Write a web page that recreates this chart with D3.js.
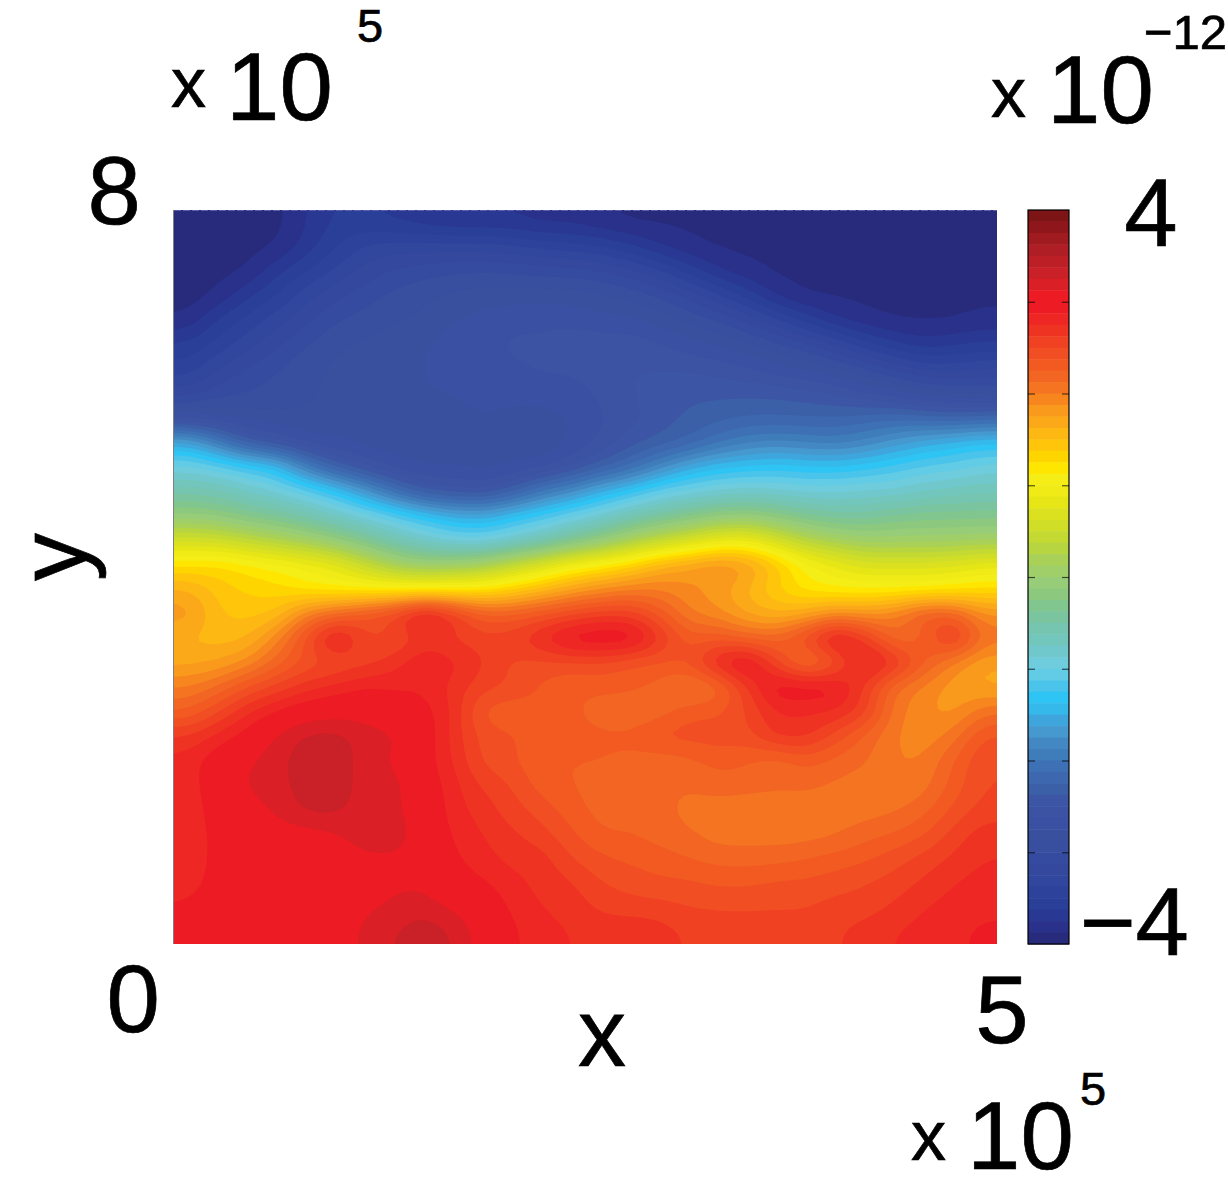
<!DOCTYPE html>
<html><head><meta charset="utf-8">
<script src="https://cdn.jsdelivr.net/npm/d3@7"></script>
<style>html,body{margin:0;padding:0;background:#fff}svg{display:block}text{font-family:"Liberation Sans",Arial,sans-serif;fill:#000;stroke:#000;stroke-width:.7px}</style>
</head><body><svg id="c" width="1228" height="1192"></svg>
<script>
const xDomain=[0,5], yDomain=[0,8], cDomain=[-4,4];
const colorbarTicks=[-3,-2,-1,0,1,2,3];
const colormap=["#7D1416","#8F171B","#A01B20","#AE1E24","#BC2026","#C92127","#DA1F26","#ED1C24","#ED1C24","#EE2724","#EF3323","#F04123","#F14E23","#F25A22","#F26522","#F47421","#F7861F","#F99A1C","#FBA919","#FDB813","#FFC50B","#FFD500","#FFE600","#F5EE16","#F0EB16","#E6E617","#DCE11F","#D0DE28","#C4DA33","#B7D540","#A9D158","#A0CF6A","#97CD78","#8CC97F","#82C68F","#7AC5A0","#75C5B0","#72C6BC","#70C8CC","#6FCCDC","#62CBE5","#4AC4EB","#2EC4F3","#35B8EA","#3EA6DC","#4699CF","#4488C3","#3F7CBA","#3D70B5","#3D68AF","#3B60A8","#3C56A5","#3C53A4","#3A50A2","#39509F","#384E9F","#354B9F","#34489E","#31469D","#2D439B","#2A3F98","#283893","#29318A","#282B7C"];
const row00=[-3.95,-3.95,-3.95,-3.92,-3.75,-3.6,-3.6,-3.65,-3.7,-3.75,-3.75,-3.75,-3.8,-3.8,-3.85,-3.9,-3.9,-3.9,-3.9,-3.9,-3.9,-3.9,-3.9,-3.9,-3.9,-3.9,-3.9,-3.9];
const row01=[-3.95,-3.95,-3.92,-3.88,-3.7,-3.5,-3.35,-3.3,-3.3,-3.3,-3.3,-3.35,-3.4,-3.45,-3.5,-3.6,-3.75,-3.85,-3.9,-3.9,-3.9,-3.9,-3.9,-3.9,-3.9,-3.9,-3.9,-3.9];
const row02=[-3.95,-3.92,-3.88,-3.65,-3.5,-3.35,-3.2,-3.1,-3.05,-3,-3,-3,-3.05,-3.05,-3.1,-3.2,-3.35,-3.55,-3.75,-3.85,-3.9,-3.9,-3.9,-3.9,-3.9,-3.9,-3.9,-3.9];
const row03=[-3.95,-3.85,-3.65,-3.5,-3.3,-3.15,-3.05,-2.95,-2.9,-2.85,-2.8,-2.8,-2.8,-2.8,-2.85,-2.9,-3,-3.15,-3.35,-3.55,-3.8,-3.9,-3.9,-3.9,-3.9,-3.9,-3.9,-3.9];
const row04=[-3.85,-3.6,-3.45,-3.3,-3.15,-3,-2.95,-2.9,-2.85,-2.75,-2.7,-2.65,-2.65,-2.65,-2.7,-2.7,-2.8,-2.9,-3,-3.15,-3.35,-3.55,-3.75,-3.85,-3.9,-3.9,-3.9,-3.85];
const row05=[-3.6,-3.45,-3.3,-3.15,-3,-2.9,-2.85,-2.8,-2.75,-2.7,-2.65,-2.6,-2.6,-2.55,-2.55,-2.55,-2.6,-2.7,-2.75,-2.85,-2.95,-3.1,-3.25,-3.45,-3.6,-3.7,-3.65,-3.6];
const row06=[-3.45,-3.25,-3.1,-3,-2.9,-2.85,-2.8,-2.8,-2.75,-2.7,-2.65,-2.65,-2.6,-2.6,-2.55,-2.5,-2.5,-2.5,-2.55,-2.6,-2.7,-2.75,-2.85,-3,-3.15,-3.3,-3.3,-3.25];
const row07=[-3.2,-3.05,-3,-2.95,-2.9,-2.85,-2.8,-2.8,-2.75,-2.75,-2.7,-2.7,-2.7,-2.7,-2.6,-2.5,-2.45,-2.4,-2.4,-2.4,-2.4,-2.45,-2.5,-2.6,-2.7,-2.8,-2.9,-2.9];
const row08=[-2.7,-2.75,-2.8,-2.85,-2.85,-2.85,-2.8,-2.8,-2.85,-2.8,-2.75,-2.8,-2.8,-2.75,-2.65,-2.55,-2.45,-2.35,-2.3,-2.25,-2.25,-2.25,-2.25,-2.2,-2.15,-2.2,-2.25,-2.2];
const row09=[-1.55,-1.95,-2.4,-2.55,-2.7,-2.75,-2.8,-2.85,-2.9,-2.85,-2.8,-2.85,-2.85,-2.75,-2.6,-2.45,-2.35,-2.25,-2.05,-1.9,-1.85,-1.9,-1.95,-1.85,-1.7,-1.55,-1.45,-1.35];
const row10=[-0.95,-1.05,-1.2,-1.35,-1.95,-2.35,-2.55,-2.7,-2.75,-2.75,-2.8,-2.75,-2.7,-2.55,-2.35,-2.15,-1.85,-1.55,-1.4,-1.35,-1.3,-1.35,-1.35,-1.3,-1.2,-1.1,-1.05,-0.95];
const row11=[-0.55,-0.6,-0.75,-0.9,-1.05,-1.3,-1.7,-2.1,-2.45,-2.5,-2.55,-2.35,-2,-1.8,-1.5,-1.3,-1.05,-0.95,-0.85,-0.8,-0.85,-0.9,-0.9,-0.85,-0.85,-0.75,-0.7,-0.65];
const row12=[-0.1,-0.15,-0.3,-0.4,-0.55,-0.75,-0.9,-1.1,-1.3,-1.5,-1.55,-1.35,-1.2,-1,-0.85,-0.6,-0.45,-0.3,-0.15,-0.1,-0.2,-0.35,-0.45,-0.45,-0.35,-0.3,-0.3,-0.3];
const row13=[0.6,0.55,0.4,0.25,0.1,-0.1,-0.35,-0.6,-0.8,-0.95,-1,-0.85,-0.65,-0.4,-0.15,0.15,0.4,0.6,0.85,0.9,0.6,0.3,0.15,0.05,0.05,0.05,0.05,0.1];
const row14=[1.25,1.3,1.2,1.1,1,0.85,0.5,0.15,0,0.05,0.15,0.45,0.7,1,1.15,1.35,1.65,1.8,1.95,1.85,1.5,1.1,0.9,0.7,0.7,0.7,0.75,0.85];
const row15=[1.65,1.45,1.35,1.3,1.15,1.1,1.1,1.1,1.1,1.15,1.2,1.35,1.55,1.75,1.9,2,2,1.9,1.8,1.6,1.35,1.15,1.1,1.1,1.1,1.1,1.15,1.25];
const row16=[1.85,1.5,1.45,1.5,2,2.2,2.4,2.6,3.05,2.7,2.3,2.3,2.4,2.5,2.6,2.6,2.35,2,1.9,1.7,1.6,1.7,1.9,1.85,2,2.35,2.3,1.9];
const row17=[1.6,1.55,1.6,1.95,2.45,3,2.5,2.45,2.65,2.6,2.55,2.6,2.8,3.05,3.1,3.1,2.7,2.3,2.35,2.2,2.2,2.55,3.05,2.65,2.1,2.2,2.75,2.1];
const row18=[1.7,1.75,1.9,2.2,2.4,2.45,2.55,2.7,2.9,2.8,2.65,2.45,2.45,2.45,2.45,2.35,2.35,2.4,2.85,3.1,2.5,2,2.3,2.95,2.75,2.3,1.95,1.75];
const row19=[2,2.15,2.4,2.55,2.7,2.8,2.9,2.85,2.85,2.7,2.55,2.5,2.35,2.25,2.3,2.3,2.2,2,2.1,2.6,3.05,3.05,3,2.6,2.1,1.95,1.8,1.7];
const row20=[2.25,2.5,2.75,2.9,3.02,3.05,3.05,3,2.95,2.75,2.3,2.25,2.35,2.3,2.15,2.1,2.15,2.35,2.35,2.5,2.75,2.75,2.75,2.6,2.05,1.9,1.8,2.1];
const row21=[2.65,2.8,2.95,3.15,3.3,3.32,3.2,3.15,3,2.7,2.45,2.4,2.3,2.3,2.3,2.3,2.45,2.45,2.45,2.45,2.7,2.7,2.45,2.2,2,1.9,2.05,2.4];
const row22=[2.8,3,3.1,3.22,3.32,3.32,3.2,3.1,2.95,2.75,2.45,2.4,2.25,2.25,2.25,2.2,2.15,2.2,2.3,2.25,2.15,2.3,2.2,2.15,2,2,2.25,2.5];
const row23=[2.8,3,3.15,3.2,3.32,3.32,3.2,3.18,3,2.8,2.6,2.5,2.3,2.25,2.2,2.15,2.15,2.15,2.2,2.2,2.15,2.15,2.1,2.05,2,2.05,2.3,2.5];
const row24=[2.75,3,3.05,3.15,3.3,3.3,3.18,3.15,3.05,2.8,2.7,2.55,2.45,2.3,2.2,2.2,2.2,2.05,2.05,2,2.05,2.05,2.05,2.05,2.1,2.2,2.4,2.55];
const row25=[2.75,2.95,3.05,3.05,3.05,3.1,3.2,3.2,3.05,2.85,2.75,2.65,2.55,2.4,2.25,2.25,2.2,2.15,2.05,2.05,2.05,2.05,2.1,2.2,2.25,2.35,2.55,2.7];
const row26=[2.75,2.95,3.05,3.05,3.05,3.05,3.1,3.1,3.08,2.9,2.8,2.7,2.7,2.5,2.4,2.35,2.3,2.25,2.2,2.2,2.2,2.25,2.3,2.35,2.45,2.55,2.65,2.75];
const row27=[2.8,2.95,3.05,3.05,3.05,3.05,3.05,3.1,3.1,2.95,2.9,2.8,2.7,2.65,2.5,2.45,2.4,2.4,2.35,2.35,2.4,2.4,2.45,2.5,2.55,2.65,2.75,2.8];
const row28=[2.9,3,3.05,3.05,3.05,3.05,3.1,3.15,3.2,3.1,3,2.85,2.75,2.7,2.6,2.55,2.55,2.5,2.5,2.5,2.5,2.5,2.55,2.55,2.65,2.75,2.8,2.85];
const row29=[2.95,3,3.05,3.05,3.05,3.05,3.15,3.25,3.35,3.25,3.05,2.9,2.8,2.75,2.7,2.75,2.7,2.6,2.55,2.55,2.55,2.55,2.6,2.7,2.75,2.8,2.85,2.9];
const rows=[row00,row01,row02,row03,row04,row05,row06,row07,row08,row09,row10,row11,row12,row13,row14,row15,row16,row17,row18,row19,row20,row21,row22,row23,row24,row25,row26,row27,row28,row29];

const plot={l:174,r:997,t:210,b:944}, bar={l:1028,r:1069};
const svg=d3.select("#c");
const nx=rows[0].length, ny=rows.length;
// one repeated edge cell on each side so the bands run out to the frame, then resampled for smooth bands
const pad=1, up=4;
const padded=[rows[0],...rows,rows[ny-1]].map(r=>[r[0],...r,r[nx-1]]);
const W=(nx+2*pad)*up, H=(ny+2*pad)*up;
const fine=[];
padded.forEach(r=>d3.range(up).forEach(()=>r.forEach(v=>d3.range(up).forEach(()=>fine.push(v)))));
d3.blur2({data:fine,width:W,height:H},1.3);
const x=d3.scaleLinear(xDomain,[plot.l,plot.r]);
const y=d3.scaleLinear(yDomain,[plot.b,plot.t]);
const dx=(plot.r-plot.l)/nx, dy=(plot.b-plot.t)/ny;
const gx=d3.scaleLinear([0,W],[plot.l-pad*dx,plot.r+pad*dx]);
const gy=d3.scaleLinear([0,H],[plot.t-pad*dy,plot.b+pad*dy]);
const c=d3.scaleLinear(cDomain,[plot.b,plot.t]);
const step=(cDomain[1]-cDomain[0])/colormap.length;
const color=d3.scaleQuantize(cDomain,[...colormap].reverse());
const thresholds=d3.range(colormap.length).map(k=>cDomain[0]+k*step);
const contours=d3.contours().size([W,H]).smooth(true).thresholds(thresholds)(fine);
const path=d3.geoPath(d3.geoTransform({point(px,py){this.stream.point(gx(px),gy(py));}}));
svg.append("defs").append("clipPath").attr("id","pc").append("rect")
  .attr("x",plot.l).attr("y",plot.t).attr("width",plot.r-plot.l).attr("height",plot.b-plot.t);
svg.append("g").attr("clip-path","url(#pc)").selectAll("path").data(contours).join("path")
  .attr("d",path).attr("fill",d=>color(d.value+step/2));
svg.append("line").attr("x1",plot.l-.5).attr("x2",plot.l-.5).attr("y1",plot.t).attr("y2",plot.b).attr("stroke","#808080").attr("stroke-width",1);
svg.append("line").attr("x1",plot.l).attr("x2",plot.r).attr("y1",plot.t+.5).attr("y2",plot.t+.5).attr("stroke","#5a5fa8").attr("stroke-width",1).attr("stroke-dasharray","7 2");

// colour bar
svg.append("g").selectAll("rect").data(colormap).join("rect")
  .attr("x",bar.l).attr("width",bar.r-bar.l)
  .attr("y",(d,i)=>c(cDomain[1]-i*step)).attr("height",(d,i)=>c(cDomain[1]-(i+1)*step)-c(cDomain[1]-i*step)+.5)
  .attr("fill",d=>d);
const tickLen=7;
const ax=svg.append("g");
ax.append("g").attr("transform",`translate(${bar.l},0)`).call(d3.axisRight(c).tickValues(colorbarTicks).tickSize(tickLen).tickFormat(""))
  .call(g=>g.select(".domain").remove()).selectAll("line").attr("stroke","#000").attr("stroke-opacity",.65).attr("stroke-width",1.2);
ax.append("g").attr("transform",`translate(${bar.r},0)`).call(d3.axisLeft(c).tickValues(colorbarTicks).tickSize(tickLen).tickFormat(""))
  .call(g=>g.select(".domain").remove()).selectAll("line").attr("stroke","#000").attr("stroke-opacity",.65).attr("stroke-width",1.2);
svg.append("rect").attr("x",bar.l).attr("y",plot.t).attr("width",bar.r-bar.l).attr("height",plot.b-plot.t).attr("fill","none").attr("stroke","#000").attr("stroke-width",1.2);

function t(s,px,py,size,anchor,extra){const e=svg.append("text").attr("x",px).attr("y",py).attr("font-size",size).attr("text-anchor",anchor||"start").text(s);if(extra)e.attr("transform",extra);return e;}
// axis limits
t("8",x(0)-33,y(8)+14,96,"end");
t("0",x(0)-14,y(0)+88,96,"end");
t("5",x(5)+5,y(0)+99,96,"middle");
t("4",bar.r+82,c(4)+36,96,"middle");
t("\u22124",bar.r+120,c(-4)+11,96,"end");
// axis names
t("x",602,1066,96,"middle");
t("y",0,0,96,"middle",`translate(86,557) rotate(-90)`);
// multipliers
t("x",171,107,70);t("10",226,120,96);t("5",357,42,47);
t("x",991,117,70);t("10",1047,123,96);t("\u221212",1144,49,49);
t("x",911,1160,70);t("10",967,1169,96);t("5",1080,1105,47);
</script></body></html>
